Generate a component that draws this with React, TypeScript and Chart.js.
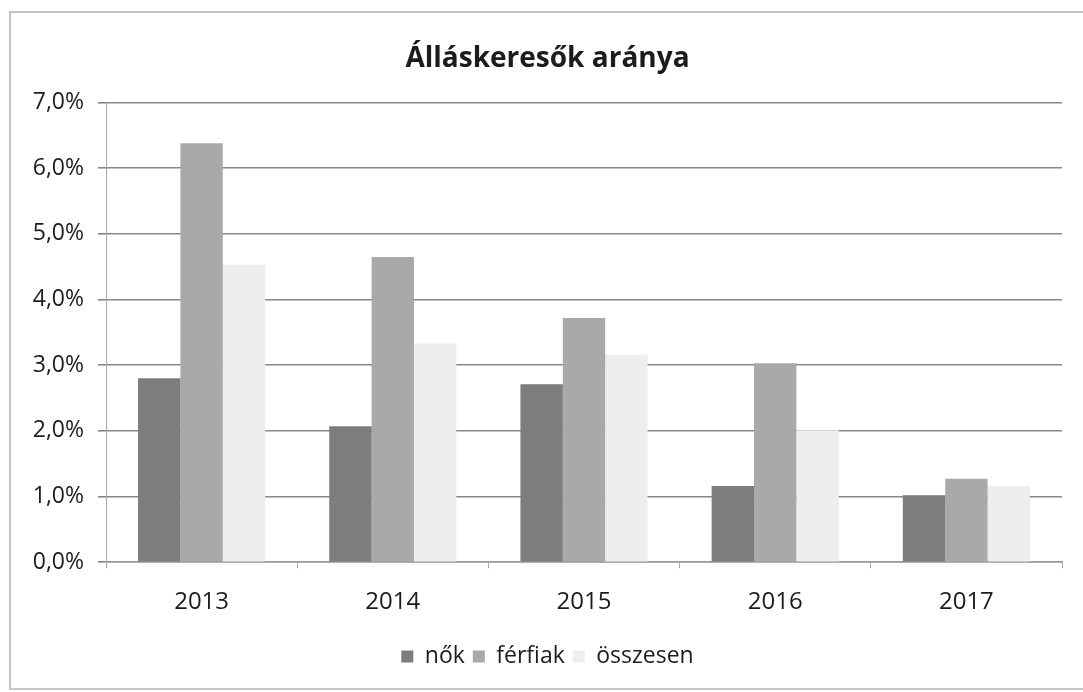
import React, { useEffect, useRef } from "react";
import { Chart, registerables } from "chart.js";

Chart.register(...registerables);

const categories = ["2013", "2014", "2015", "2016", "2017"];
const seriesNames = ["nők", "férfiak", "összesen"];
const nok = [2.8, 2.07, 2.71, 1.16, 1.02];
const ferfiak = [6.38, 4.65, 3.72, 3.03, 1.27];
const osszesen = [4.53, 3.33, 3.16, 2.01, 1.16];
const seriesColors = ["#7d7d7d", "#a9a9a9", "#eeeeee"];
const yMin = 0;
const yMax = 7;
const yStep = 1;
const titleText = "Álláskeresők aránya";

const FONT = "'Open Sans', 'Liberation Sans', sans-serif";
const TEXT = "#1c1c1c";

export default function App() {
  const ref = useRef<HTMLCanvasElement | null>(null);

  useEffect(() => {
    const canvas = ref.current;
    if (!canvas) return;
    const chart = new Chart(canvas, {
      type: "bar",
      data: {
        labels: categories,
        datasets: [nok, ferfiak, osszesen].map((d, i) => ({
          label: seriesNames[i],
          data: d,
          backgroundColor: seriesColors[i],
          borderWidth: 0,
          categoryPercentage: 0.665,
          barPercentage: 1,
        })),
      },
      options: {
        responsive: false,
        animation: false,
        layout: { padding: { left: 21, right: 21, top: 0, bottom: 14 } },
        plugins: {
          title: {
            display: true,
            text: titleText,
            color: TEXT,
            font: { family: FONT, size: 28, weight: "bold" },
            padding: { top: 42, bottom: 27 },
          },
          legend: {
            position: "bottom",
            labels: {
              color: TEXT,
              font: { family: FONT, size: 23 },
              boxWidth: 12,
              boxHeight: 12,
              padding: 8,
            },
          },
          tooltip: { enabled: false },
        },
        scales: {
          x: {
            grid: {
              display: true,
              drawOnChartArea: false,
              drawTicks: true,
              tickLength: 6,
              color: "#a8a8a8",
              offset: true,
            },
            border: { display: true, color: "#9a9a9a", width: 1.5 },
            ticks: {
              color: TEXT,
              font: { family: FONT, size: 24 },
              padding: 20,
            },
          },
          y: {
            min: yMin,
            max: yMax,
            afterFit: (scale: any) => {
              scale.width = 73;
            },
            grid: {
              color: "#878787",
              lineWidth: 1.6,
              tickLength: 8,
            },
            border: { display: true, color: "#a8a8a8", width: 1 },
            ticks: {
              stepSize: yStep,
              color: TEXT,
              font: { family: FONT, size: 23 },
              padding: 14,
              callback: (v: any) => Number(v).toFixed(1).replace(".", ",") + "%",
            },
          },
        },
      },
    });
    return () => chart.destroy();
  }, []);

  return (
    <div
      style={{
        position: "absolute",
        left: 0,
        top: 0,
        width: 1083,
        height: 692,
        overflow: "hidden",
        background: "#ffffff",
      }}
    >
      <div
        style={{
          position: "absolute",
          left: 9,
          top: 11,
          width: 1090,
          height: 675,
          borderLeft: "2px solid #c4c4c4",
          borderTop: "2px solid #c4c4c4",
          borderBottom: "2px solid #c4c4c4",
        }}
      />
      <canvas
        ref={ref}
        width={1071}
        height={692}
        style={{ position: "absolute", left: 12, top: 0, width: 1071, height: 692 }}
      />
    </div>
  );
}
